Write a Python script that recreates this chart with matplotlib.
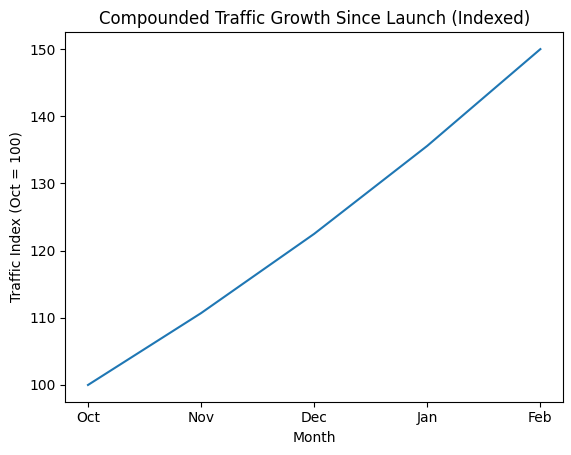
import matplotlib
matplotlib.use("Agg")
import matplotlib.pyplot as plt

months = ["Oct", "Nov", "Dec", "Jan", "Feb"]
traffic_index = [100, 110.7, 122.5, 135.6, 150]

fig, ax = plt.subplots(figsize=(5.71, 4.55), dpi=100)
fig.subplots_adjust(left=0.1145, right=0.986, top=0.929, bottom=0.117)

ax.plot(months, traffic_index)
ax.set_title("Compounded Traffic Growth Since Launch (Indexed)")
ax.set_xlabel("Month")
ax.set_ylabel("Traffic Index (Oct = 100)")

fig.savefig("out.png", dpi=100)
